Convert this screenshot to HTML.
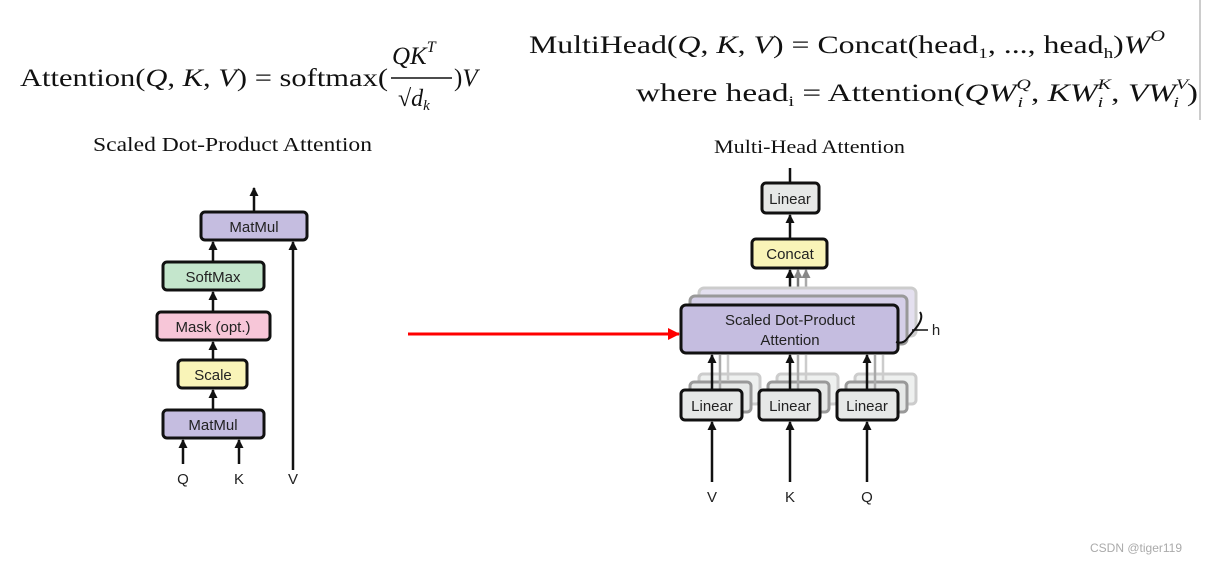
<!DOCTYPE html>
<html><head><meta charset="utf-8"><style>
html,body{margin:0;padding:0;background:#fff;}
svg{display:block}
.s{font-family:"Liberation Serif",serif;fill:#111}
.i{font-style:italic}
.b{font-family:"Liberation Sans",sans-serif;font-size:15px;fill:#222;text-anchor:middle}
</style></head><body>
<svg width="1206" height="563" viewBox="0 0 1206 563" xmlns="http://www.w3.org/2000/svg">
<defs>
<marker id="ah" markerWidth="9" markerHeight="9" refX="8" refY="4.5" orient="auto" markerUnits="userSpaceOnUse"><path d="M0,0 L9,4.5 L0,9 Z" fill="#111"/></marker>
<marker id="ahg" markerWidth="9" markerHeight="9" refX="8" refY="4.5" orient="auto" markerUnits="userSpaceOnUse"><path d="M0,0 L9,4.5 L0,9 Z" fill="#888"/></marker>
<marker id="ahr" markerWidth="12" markerHeight="12" refX="11" refY="6" orient="auto" markerUnits="userSpaceOnUse"><path d="M0,0 L12,6 L0,12 Z" fill="#f00"/></marker>
</defs>
<line x1="1200" y1="0" x2="1200" y2="120" stroke="#ccc" stroke-width="2"/>
<!-- formula 1 -->
<text class="s" x="20" y="86" font-size="25" textLength="368" lengthAdjust="spacingAndGlyphs">Attention(<tspan class="i">Q</tspan>, <tspan class="i">K</tspan>, <tspan class="i">V</tspan>) = softmax(</text>
<text class="s i" x="392" y="64" font-size="25">QK<tspan font-size="16" dy="-12">T</tspan></text>
<line x1="391" y1="78" x2="452" y2="78" stroke="#111" stroke-width="1.5"/>
<text class="s" x="398" y="106" font-size="24">√<tspan class="i">d</tspan><tspan class="i" font-size="15" dy="4">k</tspan></text>
<text class="s" x="454" y="86" font-size="25">)<tspan class="i">V</tspan></text>
<!-- formula 2 -->
<text class="s" x="529" y="53" font-size="25" textLength="636" lengthAdjust="spacingAndGlyphs">MultiHead(<tspan class="i">Q</tspan>, <tspan class="i">K</tspan>, <tspan class="i">V</tspan>) = Concat(head<tspan font-size="15" dy="5">1</tspan><tspan dy="-5">, ..., head</tspan><tspan font-size="15" dy="5">h</tspan><tspan dy="-5">)</tspan><tspan class="i">W</tspan><tspan class="i" font-size="16" dy="-12">O</tspan></text>
<text class="s" x="636" y="101" font-size="25" textLength="562" lengthAdjust="spacingAndGlyphs">where head<tspan font-size="15" dy="5">i</tspan><tspan dy="-5"> = Attention(</tspan><tspan class="i">QW</tspan><tspan class="i" font-size="15" dy="-12">Q</tspan><tspan class="i" font-size="15" dx="-10" dy="18">i</tspan><tspan dx="6" dy="-6">, </tspan><tspan class="i">KW</tspan><tspan class="i" font-size="15" dy="-12">K</tspan><tspan class="i" font-size="15" dx="-10" dy="18">i</tspan><tspan dx="6" dy="-6">, </tspan><tspan class="i">VW</tspan><tspan class="i" font-size="15" dy="-12">V</tspan><tspan class="i" font-size="15" dx="-10" dy="18">i</tspan><tspan dx="6" dy="-6">)</tspan></text>
<!-- titles -->
<text class="s" x="93" y="151" font-size="20" textLength="279" lengthAdjust="spacingAndGlyphs">Scaled Dot-Product Attention</text>
<text class="s" x="714" y="153" font-size="19" textLength="191" lengthAdjust="spacingAndGlyphs">Multi-Head Attention</text>

<!-- left diagram -->
<g stroke="#111" stroke-width="2.5" fill="none">
<line x1="254" y1="212" x2="254" y2="188" marker-end="url(#ah)"/>
<line x1="213" y1="262" x2="213" y2="242" marker-end="url(#ah)"/>
<line x1="213" y1="312" x2="213" y2="292" marker-end="url(#ah)"/>
<line x1="213" y1="360" x2="213" y2="342" marker-end="url(#ah)"/>
<line x1="213" y1="410" x2="213" y2="390" marker-end="url(#ah)"/>
<line x1="183" y1="464" x2="183" y2="440" marker-end="url(#ah)"/>
<line x1="239" y1="464" x2="239" y2="440" marker-end="url(#ah)"/>
<line x1="293" y1="470" x2="293" y2="242" marker-end="url(#ah)"/>
</g>
<g stroke="#111" stroke-width="3">
<rect x="201" y="212" width="106" height="28" rx="4" fill="#c5bde0"/>
<rect x="163" y="262" width="101" height="28" rx="4" fill="#c4e6cc"/>
<rect x="157" y="312" width="113" height="28" rx="4" fill="#f7c6d8"/>
<rect x="178" y="360" width="69" height="28" rx="4" fill="#f9f4b8"/>
<rect x="163" y="410" width="101" height="28" rx="4" fill="#c5bde0"/>
</g>
<text class="b" x="254" y="232">MatMul</text>
<text class="b" x="213" y="282">SoftMax</text>
<text class="b" x="213" y="332">Mask (opt.)</text>
<text class="b" x="213" y="380">Scale</text>
<text class="b" x="213" y="430">MatMul</text>
<text class="b" x="183" y="484" font-size="18">Q</text>
<text class="b" x="239" y="484" font-size="18">K</text>
<text class="b" x="293" y="484" font-size="18">V</text>

<!-- red arrow -->
<line x1="408" y1="334" x2="679" y2="334" stroke="#f00" stroke-width="3" marker-end="url(#ahr)"/>

<!-- right diagram -->
<g stroke-width="2.5" fill="none">
<line x1="790" y1="183" x2="790" y2="168" stroke="#111"/>
<line x1="790" y1="239" x2="790" y2="215" stroke="#111" marker-end="url(#ah)"/>
<line x1="790" y1="305" x2="790" y2="270" stroke="#111" marker-end="url(#ah)"/>
<line x1="798" y1="300" x2="798" y2="270" stroke="#777" marker-end="url(#ahg)"/>
<line x1="806" y1="295" x2="806" y2="270" stroke="#aaa" marker-end="url(#ahg)"/>
</g>
<rect x="699" y="288" width="217" height="48" rx="5" fill="#e4e0ef" stroke="#ccc" stroke-width="3"/>
<rect x="690" y="296" width="217" height="48" rx="5" fill="#d5cfe8" stroke="#999" stroke-width="3"/>
<g fill="#eef0ef" stroke="#ccc" stroke-width="3">
<rect x="699" y="374" width="61" height="30" rx="4"/><rect x="777" y="374" width="61" height="30" rx="4"/><rect x="855" y="374" width="61" height="30" rx="4"/>
</g>
<g fill="#e6e8e7" stroke="#999" stroke-width="3">
<rect x="690" y="382" width="61" height="30" rx="4"/><rect x="768" y="382" width="61" height="30" rx="4"/><rect x="846" y="382" width="61" height="30" rx="4"/>
</g>
<g stroke-width="2.5">
<line x1="720" y1="390" x2="720" y2="355" stroke="#aaa"/><line x1="728" y1="380" x2="728" y2="355" stroke="#ccc"/>
<line x1="798" y1="390" x2="798" y2="355" stroke="#aaa"/><line x1="806" y1="380" x2="806" y2="355" stroke="#ccc"/>
<line x1="875" y1="390" x2="875" y2="355" stroke="#aaa"/><line x1="883" y1="380" x2="883" y2="355" stroke="#ccc"/>
<line x1="712" y1="390" x2="712" y2="355" stroke="#111" marker-end="url(#ah)"/>
<line x1="790" y1="390" x2="790" y2="355" stroke="#111" marker-end="url(#ah)"/>
<line x1="867" y1="390" x2="867" y2="355" stroke="#111" marker-end="url(#ah)"/>
<line x1="712" y1="482" x2="712" y2="422" stroke="#111" marker-end="url(#ah)"/>
<line x1="790" y1="482" x2="790" y2="422" stroke="#111" marker-end="url(#ah)"/>
<line x1="867" y1="482" x2="867" y2="422" stroke="#111" marker-end="url(#ah)"/>
</g>
<g stroke="#111" stroke-width="3">
<rect x="762" y="183" width="57" height="30" rx="4" fill="#e6e8e7"/>
<rect x="752" y="239" width="75" height="29" rx="4" fill="#f9f4b8"/>
<rect x="681" y="305" width="217" height="48" rx="5" fill="#c5bde0"/>
<rect x="681" y="390" width="61" height="30" rx="4" fill="#e6e8e7"/>
<rect x="759" y="390" width="61" height="30" rx="4" fill="#e6e8e7"/>
<rect x="837" y="390" width="61" height="30" rx="4" fill="#e6e8e7"/>
</g>
<path d="M920,312 Q924,318 916,328 L906,340 Q902,344 896,342" fill="none" stroke="#111" stroke-width="2"/>
<line x1="912" y1="330" x2="928" y2="330" stroke="#111" stroke-width="1.5"/>
<text class="b" x="936" y="335" font-size="15">h</text>
<text class="b" x="790" y="204">Linear</text>
<text class="b" x="790" y="259">Concat</text>
<text class="b" x="790" y="325">Scaled Dot-Product</text>
<text class="b" x="790" y="345">Attention</text>
<text class="b" x="712" y="411">Linear</text>
<text class="b" x="790" y="411">Linear</text>
<text class="b" x="867" y="411">Linear</text>
<text class="b" x="712" y="502" font-size="18">V</text>
<text class="b" x="790" y="502" font-size="18">K</text>
<text class="b" x="867" y="502" font-size="18">Q</text>
<text x="1090" y="552" font-family="Liberation Sans,sans-serif" font-size="12" fill="#aaa">CSDN @tiger119</text>
</svg>
</body></html>
